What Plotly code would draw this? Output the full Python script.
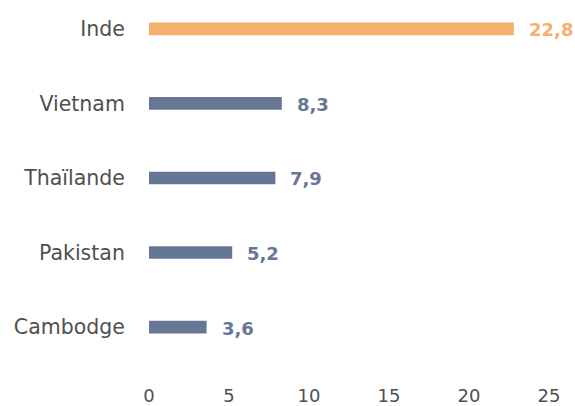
import plotly.graph_objects as go

countries = ["Cambodge", "Pakistan", "Thaïlande", "Vietnam", "Inde"]
values = [3.6, 5.2, 7.9, 8.3, 22.8]
highlight = "Inde"
tick_vals = [0, 5, 10, 15, 20, 25]

ORANGE = "#F5B16B"
BLUE = "#667796"
GREY = "#505050"
FONT = "DejaVu Sans"
colors = [ORANGE if c == highlight else BLUE for c in countries]

fig = go.Figure()
fig.add_trace(go.Bar(
    x=values, y=countries, orientation="h",
    marker=dict(color=colors, line=dict(width=0)),
    width=0.17, hoverinfo="skip",
))

for c, v, col in zip(countries, values, colors):
    fig.add_annotation(
        x=v, y=c, xref="x", yref="y",
        text=f"<b>{v:.1f}</b>".replace(".", ","),
        showarrow=False, xanchor="left", yanchor="middle",
        xshift=13, yshift=-1,
        font=dict(family=FONT, size=18, color=col),
    )

fig.update_layout(
    width=575, height=406,
    margin=dict(l=149, r=26, t=5, b=26),
    paper_bgcolor="white", plot_bgcolor="white",
    showlegend=False,
    font=dict(family=FONT, size=18, color=GREY),
    xaxis=dict(
        range=[0, 25], tickvals=tick_vals, showgrid=False, zeroline=False,
        showline=False, ticks="", ticklabelstandoff=3,
        tickfont=dict(family=FONT, size=18, color=GREY),
        fixedrange=True, automargin=False,
    ),
    yaxis=dict(
        categoryorder="array", categoryarray=countries,
        range=[-0.71, 4.32], showgrid=False, zeroline=False, showline=False,
        ticks="outside", ticklen=19, tickcolor="rgba(0,0,0,0)",
        tickfont=dict(family=FONT, size=20.5, color=GREY),
        automargin=False, fixedrange=True,
    ),
)

fig.write_html("out.html", config={"displayModeBar": False},
               post_script="document.body.style.margin='0px';")
